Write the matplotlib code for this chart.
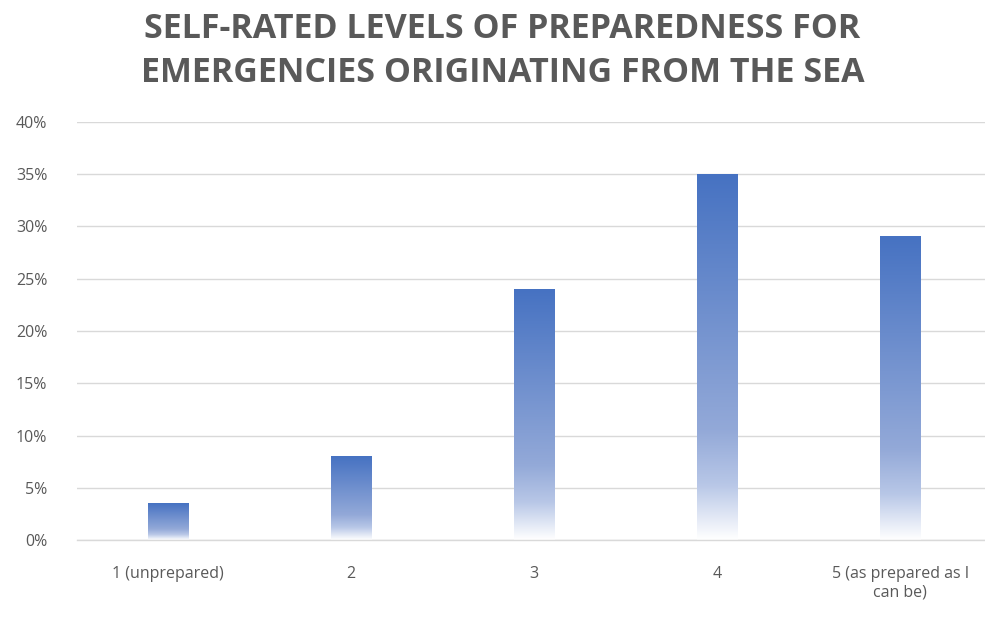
import numpy as np
import matplotlib
matplotlib.use("Agg")
import matplotlib.pyplot as plt
from matplotlib.colors import LinearSegmentedColormap
from matplotlib.ticker import FuncFormatter

categories = ["1 (unprepared)", "2", "3", "4", "5 (as prepared as I\ncan be)"]
values = [3.5, 8.0, 24.0, 35.0, 29.0]
yticks = [0, 5, 10, 15, 20, 25, 30, 35, 40]
title = "SELF-RATED LEVELS OF PREPAREDNESS FOR\nEMERGENCIES ORIGINATING FROM THE SEA"

plt.rcParams['font.family'] = ['Open Sans', 'DejaVu Sans']
grey = "#595959"

fig = plt.figure(figsize=(9.85, 6.23), dpi=100)
ax = fig.add_axes([0.0777, 0.1332, 0.929, 0.671])

x = np.arange(len(categories))
width = 0.22
bars = ax.bar(x, values, width=width, color="none", zorder=2)

cmap = LinearSegmentedColormap.from_list(
    "grad", [(0.0, "#ffffff"), (0.15, "#b8c7e7"), (0.3, "#93a9d8"), (1.0, "#4672c2")])
grad = np.linspace(0, 1, 256).reshape(-1, 1)
for b in bars:
    x0 = b.get_x()
    w = b.get_width()
    h = b.get_height()
    ax.imshow(grad, extent=[x0, x0 + w, 0, h], origin="lower", aspect="auto",
              cmap=cmap, zorder=2, interpolation="bicubic")

ax.set_xlim(-0.5, len(categories) - 0.5)
ax.set_ylim(0, 40)
ax.set_yticks(yticks)
ax.yaxis.set_major_formatter(FuncFormatter(lambda v, p: f"{int(v)}%"))
ax.set_xticks(x)
ax.set_xticklabels(categories)
ax.grid(axis="y", color="#d9d9d9", linewidth=1.0, zorder=0)
ax.set_axisbelow(True)
for s in ["top", "right", "left"]:
    ax.spines[s].set_visible(False)
ax.spines["bottom"].set_color("#d9d9d9")
ax.spines["bottom"].set_linewidth(1.0)
ax.tick_params(axis="both", length=0, colors=grey, labelsize=11.5)
ax.tick_params(axis="x", pad=19)
ax.tick_params(axis="y", pad=21)

fig.text(0.51, 0.918, title, ha="center", va="center", fontsize=24.5,
         fontweight="bold", color=grey, linespacing=1.4)

fig.savefig("out.png", dpi=100)
